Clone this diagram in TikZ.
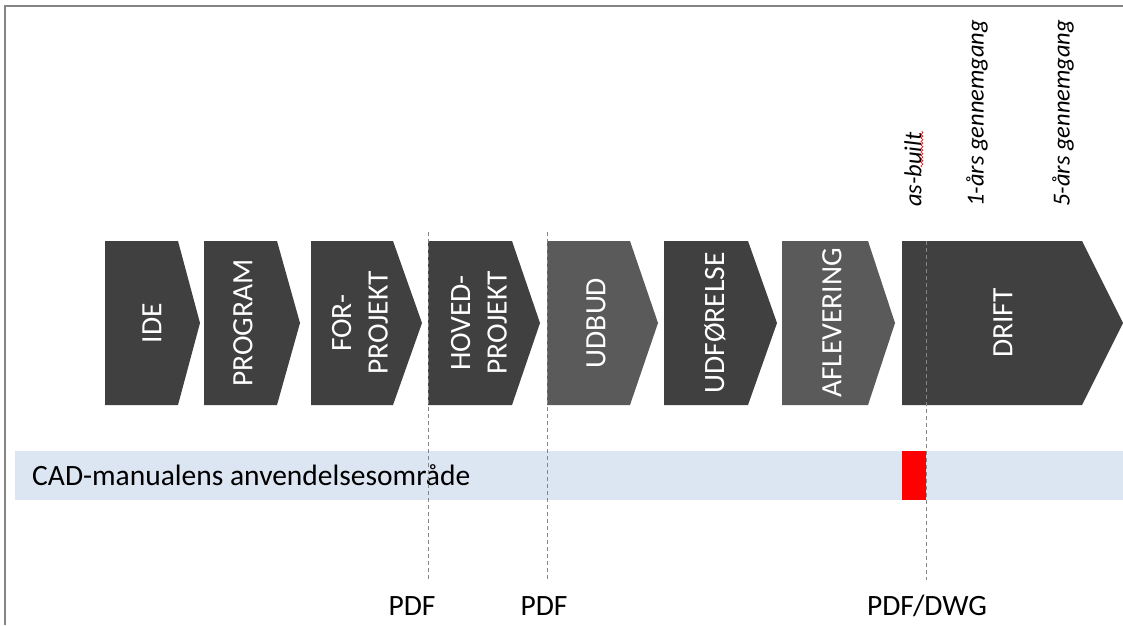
\documentclass[tikz,border=0pt]{standalone}
\usepackage{fontspec}
\setmainfont{Carlito}
\usepackage{xcolor}
\usetikzlibrary{decorations.pathmorphing}

\definecolor{fasedark}{HTML}{404040}
\definecolor{faselight}{HTML}{5A5A5A}
\definecolor{bandblue}{HTML}{DCE6F2}
\definecolor{linegray}{HTML}{858585}

\begin{document}
\begin{tikzpicture}[
  x=1pt, y=-1pt,
  every node/.style={font=\fontsize{29.5}{36.5}\selectfont, inner sep=0pt},
  fasetxt/.style={rotate=90, text=white, align=center},
  milepael/.style={rotate=90, anchor=west, font=\fontsize{24.5}{28}\selectfont\itshape},
  skillelinje/.style={draw=linegray, line width=1pt, dash pattern=on 4pt off 3pt},
  format/.style={anchor=base},
]
  \useasboundingbox (0,0) rectangle (1123,625);
  \draw[linegray, line width=1.2pt] (5,625) -- (5,6) -- (1123,6);

  % faser
  \fill[fasedark]  (105,241) -- (178,241) -- (200,323) -- (178,405) -- (105,405) -- cycle;
  \fill[fasedark]  (204,241) -- (277,241) -- (300,323) -- (277,405) -- (204,405) -- cycle;
  \fill[fasedark]  (311,241) -- (393,241) -- (422,323) -- (393,405) -- (311,405) -- cycle;
  \fill[fasedark]  (428,241) -- (512,241) -- (540,323) -- (512,405) -- (428,405) -- cycle;
  \fill[faselight] (547,241) -- (630,241) -- (658,323) -- (630,405) -- (547,405) -- cycle;
  \fill[fasedark]  (664,241) -- (748,241) -- (777,323) -- (748,405) -- (664,405) -- cycle;
  \fill[faselight] (782,241) -- (868,241) -- (895,323) -- (868,405) -- (782,405) -- cycle;
  \fill[fasedark]  (902,241) -- (1082,241) -- (1123,323) -- (1082,405) -- (902,405) -- cycle;

  \node[fasetxt] (ide)     at (152,323) {IDE};
  \node[fasetxt] (program) at (243,323) {PROGRAM};
  \node[fasetxt] (forproj) at (360,323) {FOR-\\PROJEKT};
  \node[fasetxt] (hoved)   at (479,323) {HOVED-\\PROJEKT};
  \node[fasetxt] (udbud)   at (596,323) {UDBUD};
  \node[fasetxt] (udfoer)  at (715,323) {UDFØRELSE};
  \node[fasetxt] (aflev)   at (832,323) {AFLEVERING};
  \node[fasetxt] (drift)   at (1003,323) {DRIFT};

  % anvendelsesomraade
  \fill[bandblue] (15,451) rectangle (1123,500);
  \fill[red] (902,451) rectangle (926,500);
  \node[anchor=base west] (cad) at (32,485) {CAD-manualens anvendelsesområde};

  % milepaele
  \node[milepael] (asbuilt) at (913,207) {as-built};
  \node[milepael] (etaar)   at (977,207) {1-års gennemgang};
  \node[milepael] (femaar)  at (1063,207) {5-års gennemgang};
  \draw[red, line width=0.6pt, decorate, decoration={snake, segment length=3.5pt, amplitude=1pt}]
    (922,167) -- (922,131);

  % skillelinjer
  \coordinate (hovedtop) at (428,232);
  \coordinate (hovedbund) at (428,580);
  \coordinate (udbudtop) at (547,232);
  \coordinate (udbudbund) at (547,580);
  \coordinate (drifttop) at (926,241);
  \coordinate (driftbund) at (926,580);
  \draw[skillelinje] (hovedtop) -- (hovedbund);
  \draw[skillelinje] (udbudtop) -- (udbudbund);
  \draw[skillelinje] (drifttop) -- (driftbund);

  \node[format] (pdfa)   at (412,615) {PDF};
  \node[format] (pdfb)   at (544,615) {PDF};
  \node[format] (pdfdwg) at (927,615) {PDF/DWG};
\end{tikzpicture}
\end{document}
